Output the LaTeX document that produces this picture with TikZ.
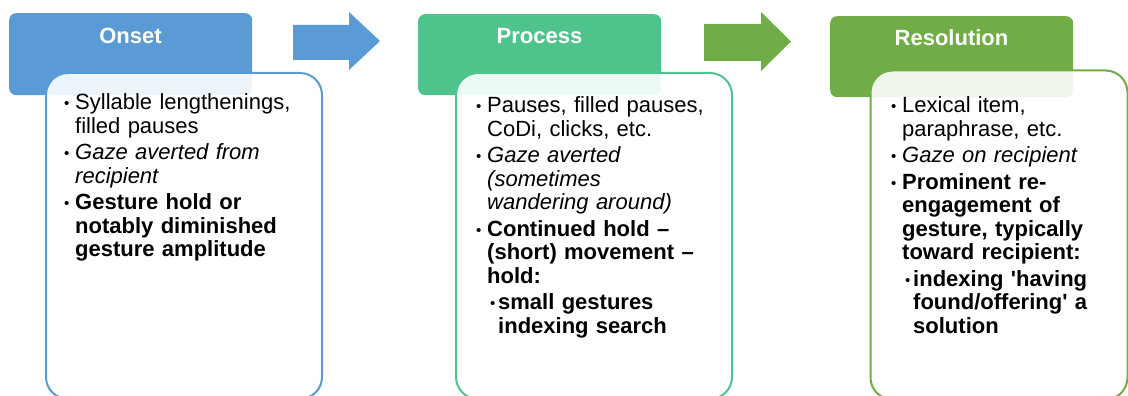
\documentclass[tikz,border=0pt]{standalone}
\usepackage{fontspec}
\setmainfont{Liberation Sans}
\definecolor{onsetblue}{RGB}{91,155,213}
\definecolor{procgreen}{RGB}{78,196,140}
\definecolor{resgreen}{RGB}{112,173,71}
\newcommand{\bulglyph}{{\fontsize{15}{15}\selectfont\raisebox{1pt}{•}}}
\newcommand{\bA}[1]{\par\noindent\hangindent=11pt\hangafter=1\makebox[11pt][l]{\bulglyph}{#1}}
\newcommand{\bB}[1]{\par\noindent\hangindent=22pt\hangafter=1\hspace*{14pt}\makebox[8pt][l]{\bulglyph}{#1}}
\tikzset{
  header/.style={rounded corners=7pt, inner sep=0, anchor=north west},
  bodybox/.style={rounded corners=22pt, fill=white, fill opacity=0.9, line width=2pt, inner sep=0, anchor=north west},
  title/.style={text=white, font=\fontsize{22}{24}\selectfont\bfseries, anchor=base},
  bodytext/.style={anchor=north west, inner sep=0, text width=250pt, font=\fontsize{22}{23.5}\selectfont},
}
\begin{document}
\begin{tikzpicture}[x=1pt,y=-1pt]
\useasboundingbox (0,0) rectangle (1128,396);
\begin{scope}
\clip (0,0) rectangle (1128,396);
% headers
\node[header, fill=onsetblue, minimum width=243, minimum height=82] (onsetH) at (9,13) {};
\node[header, fill=procgreen, minimum width=243, minimum height=81] (procH) at (418,14) {};
\node[header, fill=resgreen, minimum width=243, minimum height=81] (resH) at (830,16) {};
% body boxes
\node[bodybox, draw=onsetblue, minimum width=276, minimum height=326] (onsetB) at (45,72) {};
\node[bodybox, draw=procgreen, minimum width=276, minimum height=326] (procB) at (455,72) {};
\node[bodybox, draw=resgreen, minimum width=257, minimum height=329] (resB) at (869.5,69.5) {};
\end{scope}
% titles
\node[title] (onsetT) at (130.5,44) {Onset};
\node[title] (procT) at (539.5,44) {Process};
\node[title] (resT) at (951.5,46) {Resolution};
% block arrows
\fill[onsetblue] (293,25) -- (349,25) -- (349,12) -- (380,41) -- (349,70) -- (349,60) -- (293,60) -- cycle;
\fill[resgreen] (704,24) -- (761,24) -- (761,12) -- (791,41.5) -- (761,71) -- (761,61) -- (704,61) -- cycle;
% texts
\node[bodytext] (onsetX) at (64,83) {\raggedright\setlength{\parskip}{3pt}%
\bA{Syllable lengthenings,\newline filled pauses}
\bA{\itshape Gaze averted from\newline recipient}
\bA{\bfseries Gesture hold or\newline notably diminished\newline gesture amplitude}\par};
\node[bodytext] (procX) at (476,86) {\raggedright\setlength{\parskip}{3pt}%
\bA{Pauses, filled pauses,\newline CoDi, clicks, etc.}
\bA{\itshape Gaze averted\newline (sometimes\newline wandering around)}
\bA{\bfseries Continued hold –\newline (short) movement –\newline hold:}
\bB{\bfseries small gestures\newline indexing search}\par};
\node[bodytext] (resX) at (891,86) {\raggedright\setlength{\parskip}{3pt}%
\bA{Lexical item,\newline paraphrase, etc.}
\bA{\itshape Gaze on recipient}
\bA{\bfseries Prominent re-\newline engagement of\newline gesture, typically\newline toward recipient:}
\bB{\bfseries indexing \textquotesingle having\newline found/offering\textquotesingle{} a\newline solution}\par};
\end{tikzpicture}
\end{document}
